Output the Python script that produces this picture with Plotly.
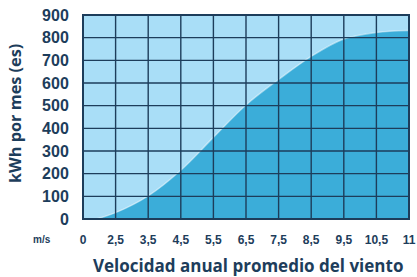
import plotly.graph_objects as go

# Data
tick_labels = ["0", "2,5", "3,5", "4,5", "5,5", "6,5", "7,5", "8,5", "9,5", "10,5", "11"]
tick_pos = list(range(len(tick_labels)))
curve_x = [0.4, 1, 2, 3, 4, 5, 6, 7, 8, 9, 10]
curve_kwh = [0, 28, 102, 215, 360, 503, 615, 717, 794, 823, 832]
y_ticks = [0, 100, 200, 300, 400, 500, 600, 700, 800, 900]

NAVY = "#1d3d5b"
LIGHT = "#a9def7"
DARK = "#3badd9"
FONT = "Liberation Sans"
TFONT = "Open Sans"

W, H = 417, 277
L, R, T, B = 83, 7.5, 15, 58
pw = W - L - R
ph = H - T - B


def px_x(px):
    return (px - L) / pw


def px_y(py):
    return (H - B - py) / ph


fig = go.Figure()
fig.add_trace(go.Scatter(
    x=curve_x, y=curve_kwh, mode="lines", fill="tozeroy",
    fillcolor=DARK, line=dict(color="rgba(255,255,255,0.45)", width=1.5, shape="spline", smoothing=1.0),
    hoverinfo="skip", showlegend=False,
))

shapes = []
for xv in tick_pos[1:-1]:
    shapes.append(dict(type="line", xref="x", yref="paper", x0=xv, x1=xv, y0=0, y1=1,
                       line=dict(color=NAVY, width=1.4), layer="above"))
for yv in y_ticks[1:-1]:
    shapes.append(dict(type="line", xref="paper", yref="y", x0=0, x1=1, y0=yv, y1=yv,
                       line=dict(color=NAVY, width=1.4), layer="above"))
shapes.append(dict(type="rect", xref="paper", yref="paper", x0=0, x1=1, y0=0, y1=1,
                   line=dict(color=NAVY, width=2), layer="above"))

fig.update_layout(
    width=W, height=H,
    margin=dict(l=L, r=R, t=T, b=B),
    paper_bgcolor="white", plot_bgcolor=LIGHT,
    shapes=shapes,
    xaxis=dict(range=[0, 10], tickvals=tick_pos, ticktext=tick_labels, automargin=False,
               showgrid=False, zeroline=False, showline=False,
               ticks="outside", ticklen=10, tickcolor="rgba(0,0,0,0)",
               tickfont=dict(family=FONT, size=12, color=NAVY, weight="bold")),
    yaxis=dict(range=[0, 900], tickvals=y_ticks, automargin=False,
               showgrid=False, zeroline=False, showline=False,
               ticks="outside", ticklen=10, tickcolor="rgba(0,0,0,0)",
               tickfont=dict(family=FONT, size=16, color=NAVY, weight="bold")),
    annotations=[
        dict(text="m/s", xref="paper", yref="paper", x=px_x(42), y=px_y(239),
             showarrow=False, xanchor="center", yanchor="middle",
             font=dict(family=FONT, size=10, color=NAVY, weight="bold")),
        dict(text="Velocidad anual promedio del viento", xref="paper", yref="paper",
             x=px_x(248), y=px_y(265), showarrow=False, xanchor="center", yanchor="middle",
             font=dict(family=TFONT, size=17, color=NAVY, weight="bold")),
        dict(text="kWh por mes (es)", xref="paper", yref="paper", textangle=-90,
             x=px_x(15), y=px_y(114), showarrow=False, xanchor="center", yanchor="middle",
             font=dict(family=TFONT, size=16.3, color=NAVY, weight="bold")),
    ],
)

fig.write_html("out.html", config={"displayModeBar": False},
               post_script="document.body.style.margin='0';document.body.style.overflow='hidden';")
